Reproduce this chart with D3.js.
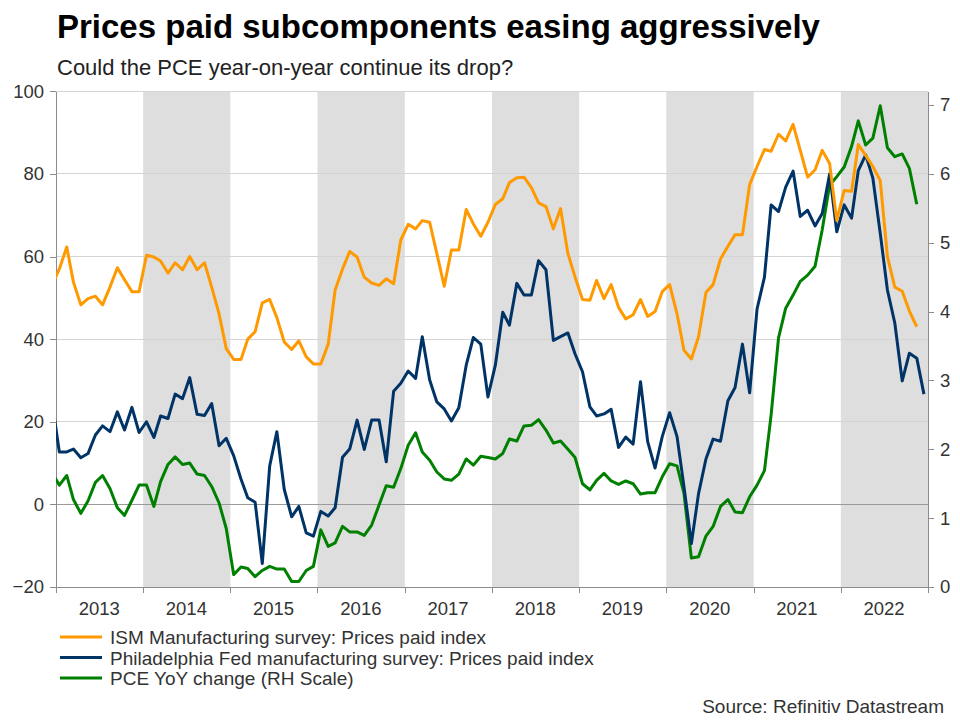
<!DOCTYPE html>
<html>
<head>
<meta charset="utf-8">
<title>Prices paid subcomponents</title>
<script src="https://cdn.jsdelivr.net/npm/d3@7"></script>
<style>
  body { margin: 0; background: #fff; }
  svg { font-family: Arial, "Liberation Sans", sans-serif; }
  .title { font-size: 33px; font-weight: bold; fill: #000; }
  .subTitle { font-size: 22px; fill: #222; }
  .axis path, .axis line { fill: none; stroke: #8c8c8c; shape-rendering: crispEdges; }
  .axis text { font-size: 18.5px; fill: #333; }
  .grid line { shape-rendering: crispEdges; }
  .legend text { font-size: 19px; fill: #333; }
  .source { font-size: 19px; fill: #333; text-anchor: end; }
</style>
</head>
<body>
<script>
// monthly data, Dec 2012 .. Dec 2022
var startMonth = [2012, 11];
var years = [2013, 2014, 2015, 2016, 2017, 2018, 2019, 2020, 2021, 2022];
var shadedYears = [2014, 2016, 2018, 2020, 2022];
var leftTicks = [-20, 0, 20, 40, 60, 80, 100];
var rightTicks = [0, 1, 2, 3, 4, 5, 6, 7];

var ism = [53,
  57, 62.3, 53.8, 48.3, 49.8, 50.4, 48.3, 52.6, 57.3, 54.4, 51.5, 51.5,
  60.3, 59.9, 58.9, 56, 58.5, 56.8, 60, 56.8, 58.5, 52.6, 46.1, 37.7,
  35.1, 35.1, 40, 41.8, 48.8, 49.6, 45.2, 39.3, 37.5, 39.6, 35.7, 34,
  34, 38.8, 51.9, 57, 61.2, 59.9, 55, 53.6, 53, 54.6, 53.4, 64,
  67.8, 66.7, 68.7, 68.3, 60.7, 52.8, 61.6, 61.6, 71.4, 67.9, 64.9, 68.3,
  72.6, 74, 77.9, 79.1, 79.2, 76.7, 73, 72.1, 66.7, 71.6, 60.7, 55,
  49.6, 49.4, 54.2, 49.8, 53.2, 47.7, 44.9, 45.9, 49.6, 45.5, 46.7, 51.5,
  53.2, 46.1, 37.3, 35.2, 40.6, 51.3, 53.2, 59.4, 62.5, 65.3, 65.3, 77.4,
  81.8, 85.9, 85.5, 89.6, 88, 92, 85.7, 79.2, 81, 85.7, 82.5, 68.7,
  76, 75.8, 87.1, 84.5, 81.8, 78.4, 60, 52.6, 51.6, 46.8, 43, null];

var philly = [25,
  12.7, 12.7, 13.4, 11.3, 12.3, 16.8, 19, 17.6, 22.4, 18, 23.5, 17.4,
  20, 16.2, 21.4, 20.8, 26.7, 25.6, 30.7, 21.8, 21.5, 24.4, 14.2, 16,
  11.8, 6.1, 1.6, 0.5, -14.3, 9.3, 17.6, 3.6, -3, -0.5, -6.9, -7.7,
  -1.7, -2.8, -0.8, 11.4, 13.4, 20.4, 13.3, 20.4, 20.4, 10.3, 27.4, 29.3,
  32.3, 30.5, 40.6, 30.1, 24.8, 23.1, 20.2, 23.4, 33.7, 40.4, 38.8, 26,
  33.7, 46.5, 43.4, 53.5, 50.7, 50.7, 59, 56.8, 39.7, 40.6, 41.5, 36.4,
  32.1, 23.6, 21.4, 21.9, 23, 13.8, 16.3, 14.6, 29.7, 15.2, 8.8, 16.4,
  22.2, 16.4, 4.3, -9.5, 2.6, 11, 15.8, 15.3, 25.1, 28.3, 38.8, 27,
  47.3, 55, 72.5, 70.9, 76.8, 80.7, 69.7, 71.2, 67.4, 70.4, 80, 66,
  72.5, 69.3, 80.8, 84.6, 79, 65.6, 51.9, 43.9, 29.9, 36.6, 35.4, 26.7];

var pce = [1.66,
  1.48, 1.62, 1.27, 1.07, 1.25, 1.52, 1.62, 1.43, 1.15, 1.04, 1.26, 1.48,
  1.48, 1.17, 1.53, 1.78, 1.89, 1.78, 1.80, 1.64, 1.62, 1.46, 1.22, 0.85,
  0.18, 0.29, 0.27, 0.15, 0.24, 0.30, 0.26, 0.26, 0.08, 0.08, 0.24, 0.30,
  0.83, 0.59, 0.64, 0.88, 0.80, 0.80, 0.75, 0.90, 1.19, 1.47, 1.45, 1.72,
  2.06, 2.24, 1.96, 1.84, 1.67, 1.57, 1.55, 1.64, 1.86, 1.77, 1.90, 1.88,
  1.86, 1.94, 2.15, 2.12, 2.34, 2.35, 2.43, 2.28, 2.09, 2.12, 2.00, 1.88,
  1.50, 1.41, 1.55, 1.65, 1.54, 1.49, 1.54, 1.50, 1.35, 1.37, 1.37, 1.60,
  1.79, 1.76, 1.36, 0.42, 0.44, 0.74, 0.88, 1.17, 1.27, 1.09, 1.08, 1.31,
  1.48, 1.69, 2.5, 3.62, 4.05, 4.24, 4.44, 4.53, 4.66, 5.19, 5.84, 5.96,
  6.10, 6.40, 6.77, 6.42, 6.52, 6.99, 6.38, 6.25, 6.29, 6.08, 5.56, null];

var seriesNames = ["ISM Manufacturing survey: Prices paid index",
  "Philadelphia Fed manufacturing survey: Prices paid index",
  "PCE YoY change (RH Scale)"];
var seriesColors = ["#ff9900", "#003366", "#008000"];

var width = 960, height = 720;
var plotLeft = 56, plotRight = 928, plotTop = 91.3, plotBottom = 587;

var svg = d3.select("body").append("svg")
  .attr("width", width).attr("height", height);

// month dates (mid-month)
var dates = ism.map(function(d, i) {
  return new Date(startMonth[0], startMonth[1] + i, 15);
});

var x = d3.scaleTime()
  .domain([new Date(2013, 0, 1), new Date(2023, 0, 1)])
  .range([plotLeft, plotRight]);
var yL = d3.scaleLinear().domain([-20, 100]).range([plotBottom, plotTop]);
var yR = d3.scaleLinear().domain([0, 7.2]).range([plotBottom, plotTop]);

// shaded years
svg.append("g").selectAll("rect")
  .data(shadedYears).enter().append("rect")
  .attr("x", function(d) { return x(new Date(d, 0, 1)); })
  .attr("y", plotTop)
  .attr("width", function(d) { return x(new Date(d + 1, 0, 1)) - x(new Date(d, 0, 1)); })
  .attr("height", plotBottom - plotTop)
  .attr("fill", "#dedede");

// grid lines
svg.append("g").attr("class", "grid")
  .selectAll("line").data(leftTicks.filter(function(d) { return d > -20; }))
  .enter().append("line")
  .attr("x1", plotLeft).attr("x2", plotRight)
  .attr("y1", function(d) { return yL(d); })
  .attr("y2", function(d) { return yL(d); })
  .style("stroke", function(d) { return d === 0 ? "#9a9a9a" : "#d4d4d4"; });

// axes
var yAxisL = d3.axisLeft(yL).tickValues(leftTicks).tickSize(6).tickPadding(6).tickSizeOuter(0);
svg.append("g").attr("class", "axis")
  .attr("transform", "translate(" + plotLeft + ",0)")
  .call(yAxisL);

var yAxisR = d3.axisRight(yR).tickValues(rightTicks).tickSize(6).tickPadding(6).tickSizeOuter(0);
svg.append("g").attr("class", "axis")
  .attr("transform", "translate(" + plotRight + ",0)")
  .call(yAxisR);

var yearEdges = years.concat([2023]).map(function(d) { return new Date(d, 0, 1); });
var xAxis = d3.axisBottom(x).tickValues(yearEdges).tickSize(6).tickFormat("").tickSizeOuter(0);
var gx = svg.append("g").attr("class", "axis")
  .attr("transform", "translate(0," + plotBottom + ")")
  .call(xAxis);
gx.selectAll(".yearLabel")
  .data(years).enter().append("text")
  .attr("class", "yearLabel")
  .attr("x", function(d) { return x(new Date(d, 6, 1)); })
  .attr("y", 28)
  .attr("text-anchor", "middle")
  .text(function(d) { return d; });

// lines
svg.append("clipPath").attr("id", "plotClip")
  .append("rect").attr("x", plotLeft).attr("y", plotTop - 5)
  .attr("width", plotRight - plotLeft).attr("height", plotBottom - plotTop + 10);

var plot = svg.append("g").attr("clip-path", "url(#plotClip)");

function drawLine(values, scale, color) {
  var line = d3.line()
    .defined(function(d) { return d != null; })
    .x(function(d, i) { return x(dates[i]); })
    .y(function(d) { return scale(d); });
  plot.append("path")
    .attr("d", line(values))
    .attr("fill", "none")
    .attr("stroke", color)
    .attr("stroke-width", 3)
    .attr("stroke-linejoin", "round");
}
drawLine(pce, yR, seriesColors[2]);
drawLine(philly, yL, seriesColors[1]);
drawLine(ism, yL, seriesColors[0]);

// titles
svg.append("text").attr("class", "title").attr("x", 57).attr("y", 38).text("Prices paid subcomponents easing aggressively");
svg.append("text").attr("class", "subTitle").attr("x", 57).attr("y", 75).text("Could the PCE year-on-year continue its drop?");

// legend
var legend = svg.append("g").attr("class", "legend");
var lg = legend.selectAll("g").data(seriesNames).enter().append("g")
  .attr("transform", function(d, i) { return "translate(60," + (637 + i * 20.5) + ")"; });
lg.append("line").attr("x1", 0).attr("x2", 42).attr("y1", 0).attr("y2", 0)
  .attr("stroke", function(d, i) { return seriesColors[i]; })
  .attr("stroke-width", 3);
lg.append("text").attr("x", 50).attr("y", 7).text(function(d) { return d; });

svg.append("text").attr("class", "source").attr("x", 944).attr("y", 713).text("Source: Refinitiv Datastream");
</script>
</body>
</html>
